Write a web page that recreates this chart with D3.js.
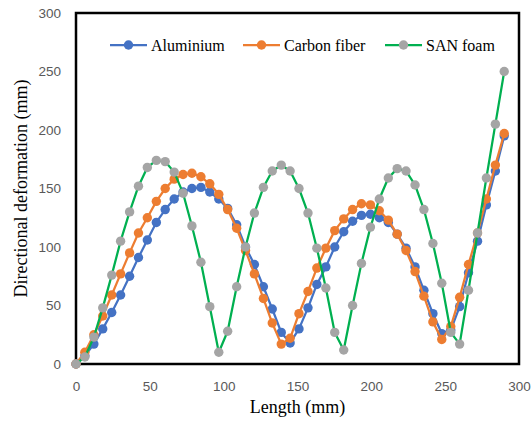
<!DOCTYPE html>
<html>
<head>
<meta charset="utf-8">
<script src="https://cdn.jsdelivr.net/npm/d3@7"></script>
<style>
  body { margin: 0; background: #fff; }
  svg { display: block; }
</style>
</head>
<body>
<script>
// chart values
const lengthMm = [0, 6.0, 12.1, 18.1, 24.2, 30.2, 36.3, 42.3, 48.3, 54.4, 60.4, 66.5, 72.5, 78.5, 84.6, 90.6,
  96.7, 102.7, 108.8, 114.8, 120.8, 126.9, 132.9, 139.0, 145.0, 151.0, 157.1, 163.1, 169.2, 175.2, 181.3,
  187.3, 193.3, 199.4, 205.4, 211.5, 217.5, 223.5, 229.6, 235.6, 241.7, 247.7, 253.8, 259.8, 265.8, 271.9,
  277.9, 284.0, 290.0];

const aluminium = [0, 7, 17, 30, 44, 59, 75, 91, 106, 121, 132, 141, 147, 150, 151, 147, 141, 133, 119, 100,
  85, 66, 47, 27, 18, 30, 48, 68, 83, 100, 113, 122, 127, 128, 125, 121, 111, 99, 83, 63, 43, 26, 29, 49,
  78, 105, 136, 165, 195];

const carbonFiber = [0, 10, 25, 41, 59, 77, 95, 112, 125, 139, 150, 158, 162, 163, 160, 154, 145, 132, 116, 97,
  77, 56, 35, 17, 22, 43, 62, 82, 99, 114, 124, 132, 137, 136, 131, 123, 111, 97, 79, 58, 36, 21, 32, 57,
  85, 112, 141, 170, 197];

const sanFoam = [0, 6, 23, 48, 76, 105, 130, 152, 168, 174, 173, 164, 146, 118, 87, 49, 10, 28, 66, 100,
  129, 151, 165, 170, 165, 150, 129, 99, 65, 27, 12, 50, 86, 117, 141, 159, 167, 165, 153, 132, 103, 69,
  27, 17, 63, 112, 159, 205, 250];

const xTicks = [0, 50, 100, 150, 200, 250, 300];
const yTicks = [0, 50, 100, 150, 200, 250, 300];

const seriesNames = ["Aluminium", "Carbon fiber", "SAN foam"];
const lineColors = ["#4472C4", "#ED7D31", "#00B050"];
const markerColors = ["#4472C4", "#ED7D31", "#A5A5A5"];

const width = 532, height = 421;
const margin = { left: 76, right: 13, top: 13, bottom: 57 };

const svg = d3.select("body").append("svg")
  .attr("width", width)
  .attr("height", height);

const x = d3.scaleLinear().domain([0, 300]).range([margin.left, width - margin.right]);
const y = d3.scaleLinear().domain([0, 300]).range([height - margin.bottom, margin.top]);

// axes (labels only, Excel style)
const xAxis = svg.append("g")
  .attr("transform", `translate(0,${height - margin.bottom})`)
  .call(d3.axisBottom(x).tickValues(xTicks).tickSize(0).tickPadding(17));
const yAxis = svg.append("g")
  .attr("transform", `translate(${margin.left},0)`)
  .call(d3.axisLeft(y).tickValues(yTicks).tickSize(0).tickPadding(15));

[xAxis, yAxis].forEach(g => {
  g.select(".domain").remove();
  g.selectAll("text")
    .attr("fill", "#595959")
    .style("font-family", "'Liberation Sans', Arial, sans-serif")
    .style("font-size", "13.5px");
});

// plot area frame
svg.append("rect")
  .attr("x", x(0))
  .attr("y", y(300))
  .attr("width", x(300) - x(0))
  .attr("height", y(0) - y(300))
  .attr("fill", "none")
  .attr("stroke", "#000")
  .attr("stroke-width", 2.5);

const allSeries = [aluminium, carbonFiber, sanFoam];

const line = d3.line()
  .x((d, i) => x(lengthMm[i]))
  .y(d => y(d));

allSeries.forEach((vals, k) => {
  const g = svg.append("g");
  g.append("path")
    .datum(vals)
    .attr("d", line)
    .attr("fill", "none")
    .attr("stroke", lineColors[k])
    .attr("stroke-width", 2.25)
    .attr("stroke-linejoin", "round");
  g.selectAll("circle")
    .data(vals)
    .enter().append("circle")
    .attr("cx", (d, i) => x(lengthMm[i]))
    .attr("cy", d => y(d))
    .attr("r", 4.7)
    .attr("fill", markerColors[k]);
});

// legend
const legendX = [110, 243, 385];
const legend = svg.append("g").attr("transform", "translate(0,45)");
seriesNames.forEach((name, k) => {
  const lg = legend.append("g").attr("transform", `translate(${legendX[k]},0)`);
  lg.append("line")
    .attr("x1", 0).attr("x2", 37)
    .attr("stroke", lineColors[k])
    .attr("stroke-width", 2.25);
  lg.append("circle")
    .attr("cx", 18.5).attr("r", 4.7)
    .attr("fill", markerColors[k]);
  lg.append("text")
    .attr("x", 41)
    .attr("dy", "0.35em")
    .style("font-family", "'Liberation Serif', 'Times New Roman', serif")
    .style("font-size", "16px")
    .attr("fill", "#000")
    .text(name);
});

// axis titles
svg.append("text")
  .attr("x", (x(0) + x(300)) / 2)
  .attr("y", 413)
  .attr("text-anchor", "middle")
  .style("font-family", "'Liberation Serif', 'Times New Roman', serif")
  .style("font-size", "18px")
  .text("Length (mm)");

svg.append("text")
  .attr("transform", `translate(27,${(y(0) + y(300)) / 2}) rotate(-90)`)
  .attr("text-anchor", "middle")
  .style("font-family", "'Liberation Serif', 'Times New Roman', serif")
  .style("font-size", "18px")
  .text("Directional deformation (mm)");
</script>
</body>
</html>
